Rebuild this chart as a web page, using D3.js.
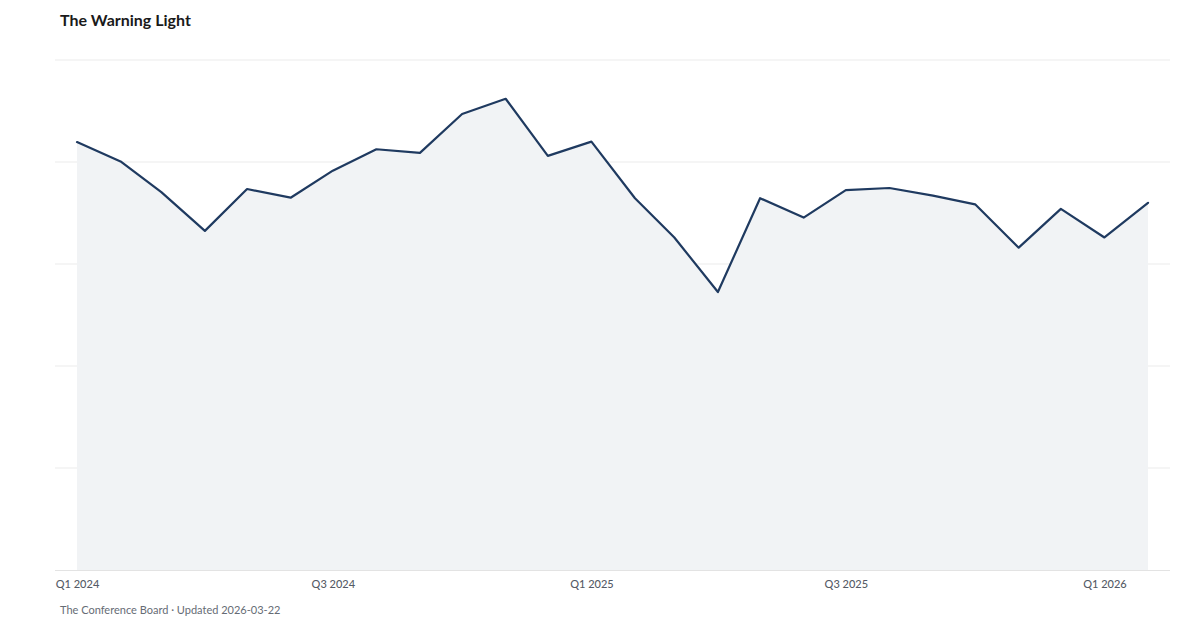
<!DOCTYPE html>
<html><head><meta charset="utf-8">
<script src="https://cdn.jsdelivr.net/npm/d3@7"></script>
<style>
body{margin:0;background:#fff;}
svg{display:block;font-family:Lato,"Open Sans",sans-serif;}
</style></head>
<body><svg id="chart" width="1200" height="630"></svg>
<script>
const months = ["2024-01","2024-02","2024-03","2024-04","2024-05","2024-06","2024-07","2024-08","2024-09","2024-10","2024-11","2024-12",
"2025-01","2025-02","2025-03","2025-04","2025-05","2025-06","2025-07","2025-08","2025-09","2025-10","2025-11","2025-12",
"2026-01","2026-02"];
const values = [83.9,80.1,74.1,66.5,74.7,73.0,78.3,82.5,81.8,89.4,92.4,81.2,
84.0,72.9,65.2,54.5,72.9,69.1,74.5,74.9,73.4,71.7,63.2,70.8,65.2,72.0];
const tickMonths = ["2024-01","2024-07","2025-01","2025-07","2026-01"];
const tickLabels = ["Q1 2024","Q3 2024","Q1 2025","Q3 2025","Q1 2026"];
const yTicks = [0,20,40,60,80,100];

const parse = d3.timeParse("%Y-%m");
const data = months.map((m,i)=>({date:parse(m), value:values[i]}));
const svg = d3.select("#chart");
const x = d3.scaleTime().domain(d3.extent(data,d=>d.date)).range([77,1148]);
const y = d3.scaleLinear().domain([0,100]).range([570,60]);

// gridlines
svg.append("g").selectAll("line").data(yTicks.slice(1)).join("line")
  .attr("x1",55).attr("x2",1170).attr("y1",d=>y(d)).attr("y2",d=>y(d))
  .attr("stroke","#ebebeb").attr("stroke-width",1);

const curve = d3.curveCatmullRom.alpha(0.5);
const area = d3.area().x(d=>x(d.date)).y0(y(0)).y1(d=>y(d.value)).curve(d3.curveLinear);
const line = d3.line().x(d=>x(d.date)).y(d=>y(d.value)).curve(d3.curveLinear);
svg.append("path").datum(data).attr("d",area).attr("fill","#f1f3f5");
svg.append("path").datum(data).attr("d",line).attr("fill","none")
  .attr("stroke","#1f3a60").attr("stroke-width",2.2).attr("stroke-linejoin","round").attr("stroke-linecap","round");

// x axis
const xAxis = d3.axisBottom(x).tickValues(tickMonths.map(parse))
  .tickFormat((d,i)=>tickLabels[i]).tickSize(0).tickPadding(10);
const gx = svg.append("g").attr("transform",`translate(0,${y(0)})`).call(xAxis);
gx.select(".domain").remove();
gx.append("line").attr("x1",55).attr("x2",1170).attr("y1",0.5).attr("y2",0.5).attr("stroke","#e3e3e3");
gx.selectAll("text").attr("font-family","Lato").attr("font-size",11).attr("fill","#555b66").attr("font-weight",500);

svg.append("text").attr("x",60).attr("y",26).text("The Warning Light")
  .attr("font-size",16).attr("font-weight",700).attr("fill","#1a1a1a");
svg.append("text").attr("x",60).attr("y",614).text("The Conference Board · Updated 2026-03-22")
  .attr("font-size",11).attr("fill","#666c75");
</script></body></html>
